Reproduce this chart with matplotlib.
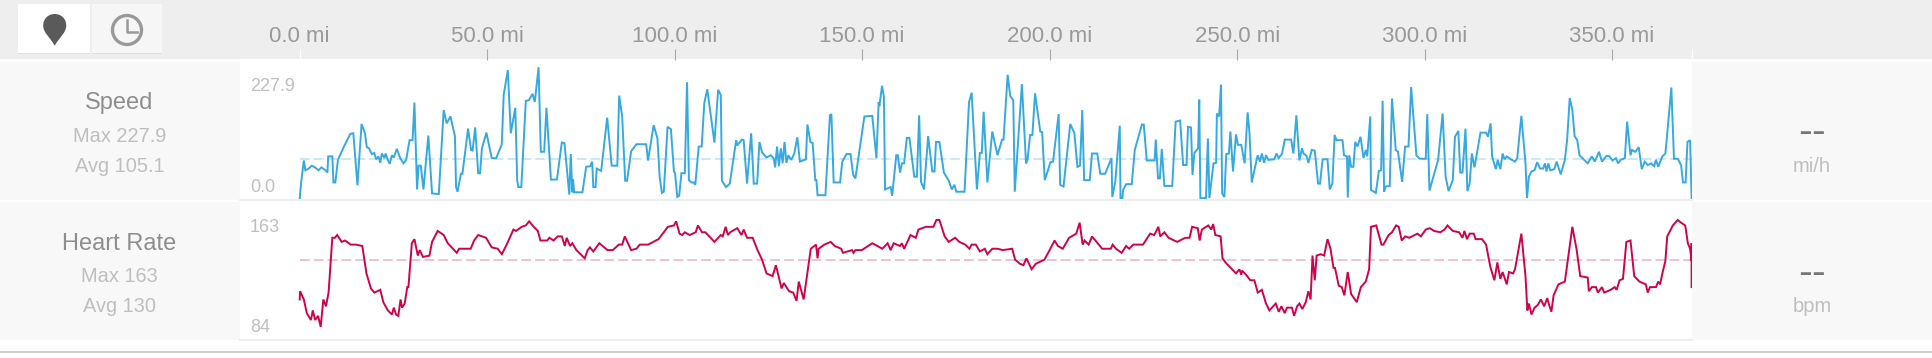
import matplotlib
matplotlib.use("Agg")
import matplotlib.pyplot as plt
from matplotlib.patches import Rectangle, Circle, PathPatch
from matplotlib.path import Path

plt.rcParams['font.family'] = ['Liberation Sans', 'DejaVu Sans']

W, H = 1932, 358

mile_ticks = [0, 50, 100, 150, 200, 250, 300, 350]
route_end = 371.2

speed_max = 227.9
speed_avg = 105.1
speed_avg_line = 68.5
hr_max = 163
hr_min = 84
hr_avg = 130
hr_avg_line = 134

speed_miles = [
    0.0, 0.4, 1.1, 1.5, 2.4, 3.2, 4.1, 5.0, 5.8, 6.9, 7.4, 7.6, 8.7, 9.0, 9.5, 10.2, 11.8, 13.5, 14.3, 15.4,
    16.5, 17.4, 17.9, 18.5, 19.2, 19.9, 20.4, 21.0, 21.5, 21.9, 22.6, 22.9, 23.5, 24.0, 24.6, 25.1, 25.9, 26.8, 27.7, 28.4,
    29.3, 30.1, 30.6, 31.3, 31.7, 32.3, 33.0, 34.3, 35.3, 37.1, 38.4, 39.2, 40.2, 41.4, 41.7, 42.1, 43.0, 43.4, 44.9, 45.7,
    46.1, 46.8, 47.6, 48.1, 48.6, 49.8, 51.2, 52.4, 53.9, 54.4, 55.5, 56.3, 57.5, 58.0, 58.3, 59.1, 60.3, 61.1, 62.1, 62.7,
    63.7, 64.3, 65.2, 65.8, 67.0, 68.6, 69.9, 70.6, 71.9, 72.3, 72.7, 72.9, 73.2, 75.4, 76.4, 77.5, 78.0, 78.3, 78.9, 79.2,
    80.4, 82.0, 83.2, 84.7, 85.2, 86.0, 86.8, 87.3, 88.4, 89.8, 92.4, 92.9, 94.4, 95.4, 96.0, 96.6, 97.1, 98.1, 99.0, 99.8,
    100.1, 100.7, 101.2, 101.8, 102.7, 103.3, 103.8, 104.5, 105.1, 105.5, 106.4, 107.2, 107.9, 108.7, 110.6, 111.6, 112.3, 112.6, 113.7, 114.7,
    116.4, 116.7, 117.9, 118.4, 119.3, 120.4, 121.1, 122.0, 122.6, 123.3, 124.5, 125.6, 126.4, 126.8, 127.3, 127.8, 128.3, 128.8, 129.3, 129.8,
    130.3, 131.1, 131.9, 132.7, 133.4, 135.0, 135.4, 136.2, 136.8, 137.5, 137.8, 138.1, 140.2, 141.4, 141.8, 142.4, 144.1, 144.7, 145.8, 146.9,
    147.6, 148.2, 150.6, 152.7, 153.8, 154.4, 154.6, 155.3, 155.8, 156.1, 157.6, 158.0, 159.1, 159.5, 160.1, 160.6, 161.2, 161.9, 162.6, 163.9,
    164.6, 165.2, 165.7, 166.5, 167.6, 168.7, 169.3, 169.7, 170.6, 171.8, 173.1, 173.9, 174.6, 175.1, 177.3, 178.5, 179.2, 180.6, 181.4, 181.9,
    182.4, 183.4, 184.7, 186.1, 187.3, 187.7, 188.8, 189.5, 190.3, 190.7, 192.6, 193.7, 194.1, 194.8, 195.4, 196.1, 197.5, 198.0, 198.7, 199.7,
    200.2, 200.9, 202.4, 202.8, 203.7, 205.5, 206.6, 207.4, 208.1, 208.7, 209.2, 210.7, 211.3, 212.7, 213.5, 214.8, 216.5, 216.7, 217.5, 218.7,
    218.9, 219.4, 219.6, 220.4, 221.9, 222.7, 224.6, 225.1, 225.9, 228.0, 228.3, 228.9, 229.4, 229.9, 230.6, 232.7, 233.6, 234.8, 235.6, 236.5,
    236.9, 237.7, 238.1, 238.6, 239.6, 239.9, 240.2, 241.7, 242.2, 242.6, 243.7, 244.4, 244.6, 245.2, 245.7, 246.0, 246.6, 247.1, 247.8, 248.2,
    248.9, 249.7, 250.2, 251.1, 252.0, 252.8, 253.3, 253.9, 255.2, 255.5, 256.1, 256.6, 257.2, 257.7, 258.3, 259.9, 260.5, 261.1, 262.0, 262.7,
    264.4, 265.0, 265.8, 266.6, 267.3, 267.7, 268.5, 269.0, 269.9, 270.7, 271.6, 272.1, 272.8, 274.1, 274.7, 275.4, 276.0, 276.5, 278.1, 278.5,
    279.3, 279.5, 279.9, 280.4, 281.0, 281.5, 282.1, 282.9, 283.7, 284.3, 284.7, 285.5, 285.7, 287.0, 287.8, 288.4, 288.8, 289.2, 289.6, 290.7,
    291.3, 292.3, 292.9, 294.0, 294.8, 295.7, 296.4, 297.8, 298.7, 300.3, 300.7, 301.3, 303.6, 304.8, 305.6, 306.4, 307.5, 308.1, 309.0, 309.5,
    310.1, 310.9, 311.4, 312.0, 312.6, 313.3, 314.9, 316.4, 316.9, 317.6, 318.0, 319.0, 319.5, 320.2, 320.8, 321.3, 321.9, 323.0, 324.1, 324.7,
    325.8, 326.9, 327.3, 327.8, 328.5, 329.3, 330.0, 330.8, 331.6, 332.1, 332.5, 333.0, 333.5, 334.6, 335.2, 336.3, 337.4, 338.0, 338.7, 339.4,
    340.0, 340.7, 341.3, 342.4, 343.5, 344.6, 345.4, 346.5, 347.3, 348.5, 349.3, 350.1, 351.0, 351.6, 352.3, 353.4, 354.0, 354.9, 355.3, 356.2,
    357.1, 357.9, 358.7, 359.5, 360.4, 361.2, 361.7, 362.3, 363.4, 364.2, 364.5, 365.8, 366.5, 367.5, 368.4, 368.9, 369.6, 370.1, 370.8, 371.2,
]
speed_values = [
    0, 29, 66, 49, 52, 57, 54, 49, 54, 49, 45, 73, 73, 28, 28, 67, 90, 112, 113, 23,
    129, 113, 89, 87, 77, 79, 68, 73, 62, 78, 70, 78, 67, 60, 75, 71, 86, 70, 61, 67,
    101, 101, 166, 16, 57, 57, 16, 109, 9, 8, 153, 130, 142, 108, 20, 12, 43, 43, 121, 84,
    83, 123, 44, 44, 87, 114, 70, 70, 94, 179, 222, 113, 157, 32, 20, 20, 169, 170, 181, 167,
    227, 81, 81, 157, 33, 33, 97, 96, 7, 77, 11, 33, 11, 11, 55, 56, 64, 20, 20, 52,
    48, 140, 57, 57, 178, 142, 31, 31, 82, 94, 94, 66, 127, 104, 37, 10, 12, 124, 120, 47,
    44, 3, 5, 44, 44, 201, 32, 28, 28, 24, 90, 90, 165, 189, 97, 188, 179, 31, 20, 26,
    101, 92, 102, 101, 26, 113, 26, 26, 98, 80, 71, 75, 70, 54, 90, 56, 87, 61, 98, 62,
    75, 67, 78, 106, 64, 68, 128, 98, 96, 32, 32, 6, 6, 144, 146, 28, 28, 64, 77, 77,
    41, 35, 142, 143, 70, 167, 160, 195, 176, 16, 20, 5, 75, 75, 45, 61, 61, 105, 105, 38,
    38, 144, 29, 16, 108, 47, 47, 98, 98, 45, 31, 16, 24, 12, 12, 167, 183, 16, 79, 79,
    150, 28, 116, 75, 102, 102, 214, 177, 170, 12, 198, 61, 67, 110, 110, 182, 116, 115, 32, 52,
    63, 64, 146, 24, 21, 129, 113, 55, 57, 153, 32, 32, 78, 78, 43, 43, 70, 3, 29, 126,
    1, 1, 15, 25, 25, 84, 128, 128, 66, 66, 102, 35, 35, 86, 22, 22, 133, 135, 58, 58,
    124, 123, 41, 79, 87, 171, 1, 1, 104, 1, 61, 62, 147, 142, 197, 9, 3, 77, 78, 116,
    47, 111, 93, 93, 61, 149, 113, 28, 67, 75, 64, 78, 62, 75, 67, 68, 78, 70, 78, 102,
    102, 78, 144, 66, 87, 78, 74, 62, 84, 83, 26, 26, 68, 68, 16, 26, 110, 101, 101, 75,
    73, 2, 75, 55, 55, 98, 90, 107, 70, 84, 73, 142, 15, 10, 48, 49, 169, 12, 21, 22,
    173, 84, 81, 29, 90, 90, 193, 75, 69, 69, 146, 14, 67, 147, 38, 13, 32, 107, 117, 45,
    45, 121, 13, 26, 78, 54, 114, 114, 107, 130, 73, 51, 67, 51, 78, 68, 73, 68, 64, 70,
    143, 61, 1, 38, 47, 49, 63, 52, 52, 61, 47, 61, 49, 51, 64, 42, 67, 101, 174, 153,
    108, 101, 75, 68, 61, 73, 64, 81, 64, 74, 73, 66, 70, 61, 67, 70, 133, 75, 84, 81,
    89, 51, 64, 58, 61, 56, 67, 55, 73, 78, 98, 192, 69, 69, 58, 28, 28, 98, 101, 1,
]

hr_miles = [
    0.0, 0.1, 1.1, 1.9, 3.0, 3.5, 4.1, 4.9, 5.6, 6.3, 7.0, 7.7, 8.7, 9.4, 10.0, 11.2, 12.1, 13.6, 15.0, 16.7,
    17.8, 19.0, 19.9, 21.5, 22.3, 23.5, 24.6, 25.1, 25.7, 26.3, 26.9, 27.3, 28.0, 28.7, 29.0, 29.9, 30.6, 31.5, 32.0, 32.9,
    34.6, 35.3, 36.8, 38.4, 39.5, 41.9, 42.5, 44.5, 45.6, 46.5, 47.6, 49.7, 51.2, 52.8, 53.9, 55.2, 57.0, 57.7, 59.2, 60.3,
    61.2, 62.4, 63.5, 64.2, 66.0, 66.6, 67.7, 68.8, 69.9, 70.7, 71.2, 72.1, 72.7, 73.8, 76.0, 76.8, 77.4, 78.3, 79.9, 82.1,
    83.5, 85.1, 86.0, 86.7, 88.4, 89.8, 90.7, 92.9, 95.7, 98.2, 99.8, 100.4, 101.3, 102.0, 102.7, 104.0, 105.6, 106.2, 107.3, 108.2,
    110.6, 112.3, 112.8, 113.6, 114.2, 114.8, 116.7, 117.8, 118.4, 119.3, 120.8, 122.1, 123.3, 124.5, 126.1, 127.0, 128.5, 129.1, 130.5, 131.6,
    132.5, 133.1, 134.4, 136.3, 137.7, 138.1, 138.4, 139.9, 141.6, 142.7, 144.4, 144.9, 147.3, 147.7, 148.2, 149.9, 152.7, 155.4, 156.8, 157.6,
    158.4, 160.1, 160.6, 161.2, 162.9, 164.3, 165.0, 167.0, 169.0, 169.8, 170.6, 172.0, 173.1, 174.8, 175.9, 177.5, 178.6, 179.2, 180.3, 181.4,
    182.7, 183.4, 184.7, 186.1, 187.5, 190.0, 190.8, 192.1, 193.0, 193.8, 195.2, 196.3, 198.6, 200.2, 201.3, 202.2, 203.5, 205.2, 207.1, 208.0,
    208.8, 209.3, 210.4, 211.3, 214.0, 216.3, 216.8, 217.7, 219.2, 220.4, 221.2, 222.3, 224.9, 226.8, 227.9, 229.0, 229.5, 230.6, 231.7, 234.0,
    236.2, 237.3, 238.0, 239.5, 240.0, 240.6, 242.3, 243.1, 243.6, 244.2, 245.6, 246.1, 247.2, 248.3, 249.7, 250.6, 251.1, 251.3, 252.4, 253.5,
    254.6, 255.5, 256.6, 257.7, 258.6, 260.3, 261.1, 261.8, 262.7, 263.3, 264.6, 265.2, 266.0, 266.6, 267.4, 268.3, 269.0, 269.6, 270.1, 270.7,
    271.2, 272.3, 273.2, 274.1, 274.9, 275.7, 276.1, 277.1, 277.9, 278.6, 279.5, 280.4, 281.9, 283.0, 284.3, 285.2, 285.7, 287.1, 288.5, 289.0,
    290.4, 291.3, 292.4, 293.1, 293.9, 294.8, 295.9, 298.1, 299.0, 300.3, 301.4, 302.5, 304.2, 305.3, 306.1, 307.5, 309.2, 310.1, 310.6, 311.3,
    312.0, 313.1, 313.6, 315.3, 316.4, 317.5, 318.6, 319.4, 320.2, 320.8, 321.9, 322.5, 323.6, 324.1, 325.8, 326.9, 327.4, 327.8, 328.5, 329.3,
    330.2, 331.0, 331.9, 332.7, 333.2, 333.8, 334.4, 335.7, 337.4, 338.3, 339.4, 340.5, 341.5, 343.5, 343.8, 344.6, 345.7, 346.2, 347.3, 347.9,
    349.6, 350.7, 351.2, 352.0, 352.9, 353.8, 354.9, 355.9, 357.3, 359.0, 359.5, 360.1, 361.7, 362.3, 362.8, 363.4, 364.2, 364.7, 366.2, 367.5,
    368.4, 369.5, 370.2, 370.8, 371.2, 371.2, 371.2,
]
hr_values = [
    105, 111, 105, 95, 90, 97, 90, 93, 85, 105, 100, 110, 150, 150, 152, 147, 148, 145, 145, 144,
    124, 113, 110, 112, 103, 97, 94, 99, 94, 93, 105, 99, 102, 114, 114, 146, 149, 137, 141, 136,
    137, 147, 155, 152, 146, 139, 142, 142, 142, 148, 152, 150, 143, 142, 138, 145, 156, 155, 158, 159,
    162, 158, 155, 148, 148, 150, 148, 151, 151, 144, 150, 144, 146, 141, 135, 141, 143, 140, 146, 141,
    141, 145, 145, 151, 141, 142, 145, 145, 149, 158, 159, 162, 153, 152, 154, 152, 154, 159, 154, 154,
    147, 152, 151, 158, 152, 154, 157, 152, 156, 150, 150, 141, 134, 124, 122, 130, 113, 117, 111, 110,
    104, 118, 105, 142, 145, 135, 142, 145, 147, 144, 142, 139, 141, 139, 141, 141, 146, 142, 146, 141,
    146, 144, 146, 142, 152, 150, 156, 158, 158, 163, 163, 151, 147, 150, 147, 145, 142, 145, 145, 140,
    142, 138, 142, 142, 141, 142, 134, 131, 130, 135, 127, 131, 134, 142, 148, 144, 142, 150, 153, 161,
    145, 148, 145, 151, 142, 142, 145, 142, 139, 144, 142, 145, 145, 153, 152, 158, 151, 154, 150, 147,
    150, 150, 158, 157, 148, 156, 159, 156, 160, 152, 151, 135, 131, 128, 124, 127, 123, 126, 123, 119,
    119, 110, 112, 102, 97, 102, 96, 100, 95, 99, 99, 93, 100, 102, 98, 103, 111, 105, 137, 119,
    137, 138, 137, 149, 142, 128, 128, 115, 114, 108, 125, 109, 103, 114, 118, 127, 158, 159, 145, 145,
    152, 154, 159, 158, 148, 151, 150, 153, 151, 156, 157, 155, 154, 156, 159, 155, 154, 150, 155, 149,
    153, 153, 149, 149, 145, 129, 119, 132, 120, 125, 116, 125, 124, 127, 153, 122, 97, 102, 94, 99,
    101, 105, 100, 106, 101, 96, 108, 116, 118, 136, 158, 142, 122, 121, 111, 114, 114, 110, 114, 110,
    112, 114, 112, 119, 120, 147, 148, 122, 118, 116, 110, 114, 114, 118, 116, 124, 133, 151, 159, 163,
    161, 159, 146, 142, 133, 146, 114,
]

n = min(len(speed_miles), len(speed_values))
m = min(len(hr_miles), len(hr_values))


def px_axes(x0, y0, x1, y1):
    return fig.add_axes([x0 / W, 1 - y1 / H, (x1 - x0) / W, (y1 - y0) / H])


fig = plt.figure(figsize=(W / 100, H / 100), dpi=100, facecolor='white')

# page furniture, drawn in pixel coordinates
bg = fig.add_axes([0, 0, 1, 1])
bg.set_xlim(0, W)
bg.set_ylim(H, 0)
bg.axis('off')
bg.add_patch(Rectangle((0, 0), W, 59, color='#eeeeee', lw=0))
for y0, y1 in [(62, 200), (202, 340)]:
    bg.add_patch(Rectangle((0, y0), 240, y1 - y0, color='#f8f8f8', lw=0))
    bg.add_patch(Rectangle((1692, y0), 240, y1 - y0, color='#f8f8f8', lw=0))
bg.add_patch(Rectangle((0, 351), W, 2, color='#cccccc', lw=0))

# buttons
bg.add_patch(Rectangle((18, 5), 72, 49, color='#dddddd', lw=0))
bg.add_patch(Rectangle((18, 4), 71.5, 49, color='white', lw=0))
bg.add_patch(Rectangle((92, 5), 70, 49, color='#dddddd', lw=0))
bg.add_patch(Rectangle((92, 4), 69.5, 49, color='#f6f6f6', lw=0))
pin = Path(
    [(54.7, 45.7), (50, 37), (43.2, 33), (43.2, 25.5), (43.2, 18.5), (48.5, 14), (54.7, 14),
     (61, 14), (66.2, 18.5), (66.2, 25.5), (66.2, 33), (59.5, 37), (54.7, 45.7)],
    [Path.MOVETO] + [Path.CURVE4] * 12)
bg.add_patch(PathPatch(pin, facecolor='#5a5a5a', lw=0))
bg.add_patch(Circle((127, 30), 14.5, facecolor='none', edgecolor='#999999', lw=2.4))
bg.plot([127, 127, 137], [20, 32, 32], color='#999999', lw=1.8)

# row labels
bg.text(119.5, 103, 'Speed', ha='center', va='center', fontsize=17, color='#8e8e8e')
bg.text(119.5, 137, f'Max {speed_max}', ha='center', va='center', fontsize=14.4, color='#bfbfbf')
bg.text(119.5, 167, f'Avg {speed_avg}', ha='center', va='center', fontsize=14.4, color='#bfbfbf')
bg.text(119.5, 244, 'Heart Rate', ha='center', va='center', fontsize=17, color='#8e8e8e')
bg.text(119.5, 277, f'Max {hr_max}', ha='center', va='center', fontsize=14.4, color='#bfbfbf')
bg.text(119.5, 307, f'Avg {hr_avg}', ha='center', va='center', fontsize=14.4, color='#bfbfbf')

bg.text(1812, 144.5, '--', ha='center', va='baseline', fontsize=30, color='#777777')
bg.text(1812, 167, 'mi/h', ha='center', va='center', fontsize=14.5, color='#bfbfbf')
bg.text(1812, 284.8, '--', ha='center', va='baseline', fontsize=30, color='#777777')
bg.text(1812, 307, 'bpm', ha='center', va='center', fontsize=14.5, color='#bfbfbf')

ax1 = px_axes(240, 60, 1691.6, 200)
ax2 = px_axes(240, 202, 1691.6, 340)

ax1.plot(speed_miles[:n], speed_values[:n], color='#35a9e0', lw=1.4, solid_joinstyle='miter')
ax1.plot([0, route_end], [speed_avg_line, speed_avg_line], color='#bfe5f5', lw=1.2, dashes=(5.8, 2.5), zorder=1)
ax1.set_ylim(-2.3, 239.5)

ax2.plot(hr_miles[:m], hr_values[:m], color='#d0024c', lw=1.4, solid_joinstyle='miter')
ax2.plot([0, route_end], [hr_avg_line, hr_avg_line], color='#e9b9cb', lw=1.2, dashes=(5.8, 2.5), zorder=1)
ax2.set_ylim(75.4, 176.1)

for ax in [ax1, ax2]:
    ax.set_xlim(-15.92, route_end)
    ax.set_yticks([])
    for s in ['top', 'left', 'right']:
        ax.spines[s].set_visible(False)
    ax.spines['bottom'].set_color('#eeeeee')
    ax.spines['bottom'].set_linewidth(1.4)

ax2.set_xticks([])

ax1.xaxis.tick_top()
ax1.set_xticks(mile_ticks + [route_end])
ax1.set_xticklabels([f'{v:.1f} mi' for v in mile_ticks] + [''], fontsize=16, color='#999999')
ax1.tick_params(axis='x', length=8, width=0.8, color='#aaaaaa', pad=1.3)
ticks = ax1.xaxis.get_major_ticks()
ticks[0].tick2line.set_markeredgecolor('white')
ticks[-1].tick2line.set_markeredgecolor('white')

ax1.text(250, 86.5, f'{speed_max}', fontsize=13, color='#bfbfbf', va='center', transform=bg.transData)
ax1.text(250, 188, '0.0', fontsize=13, color='#bfbfbf', va='center', transform=bg.transData)
ax2.text(250, 228, f'{hr_max}', fontsize=13, color='#bfbfbf', va='center', transform=bg.transData)
ax2.text(250, 327.7, f'{hr_min}', fontsize=13, color='#bfbfbf', va='center', transform=bg.transData)

fig.savefig('out.png', dpi=100)
